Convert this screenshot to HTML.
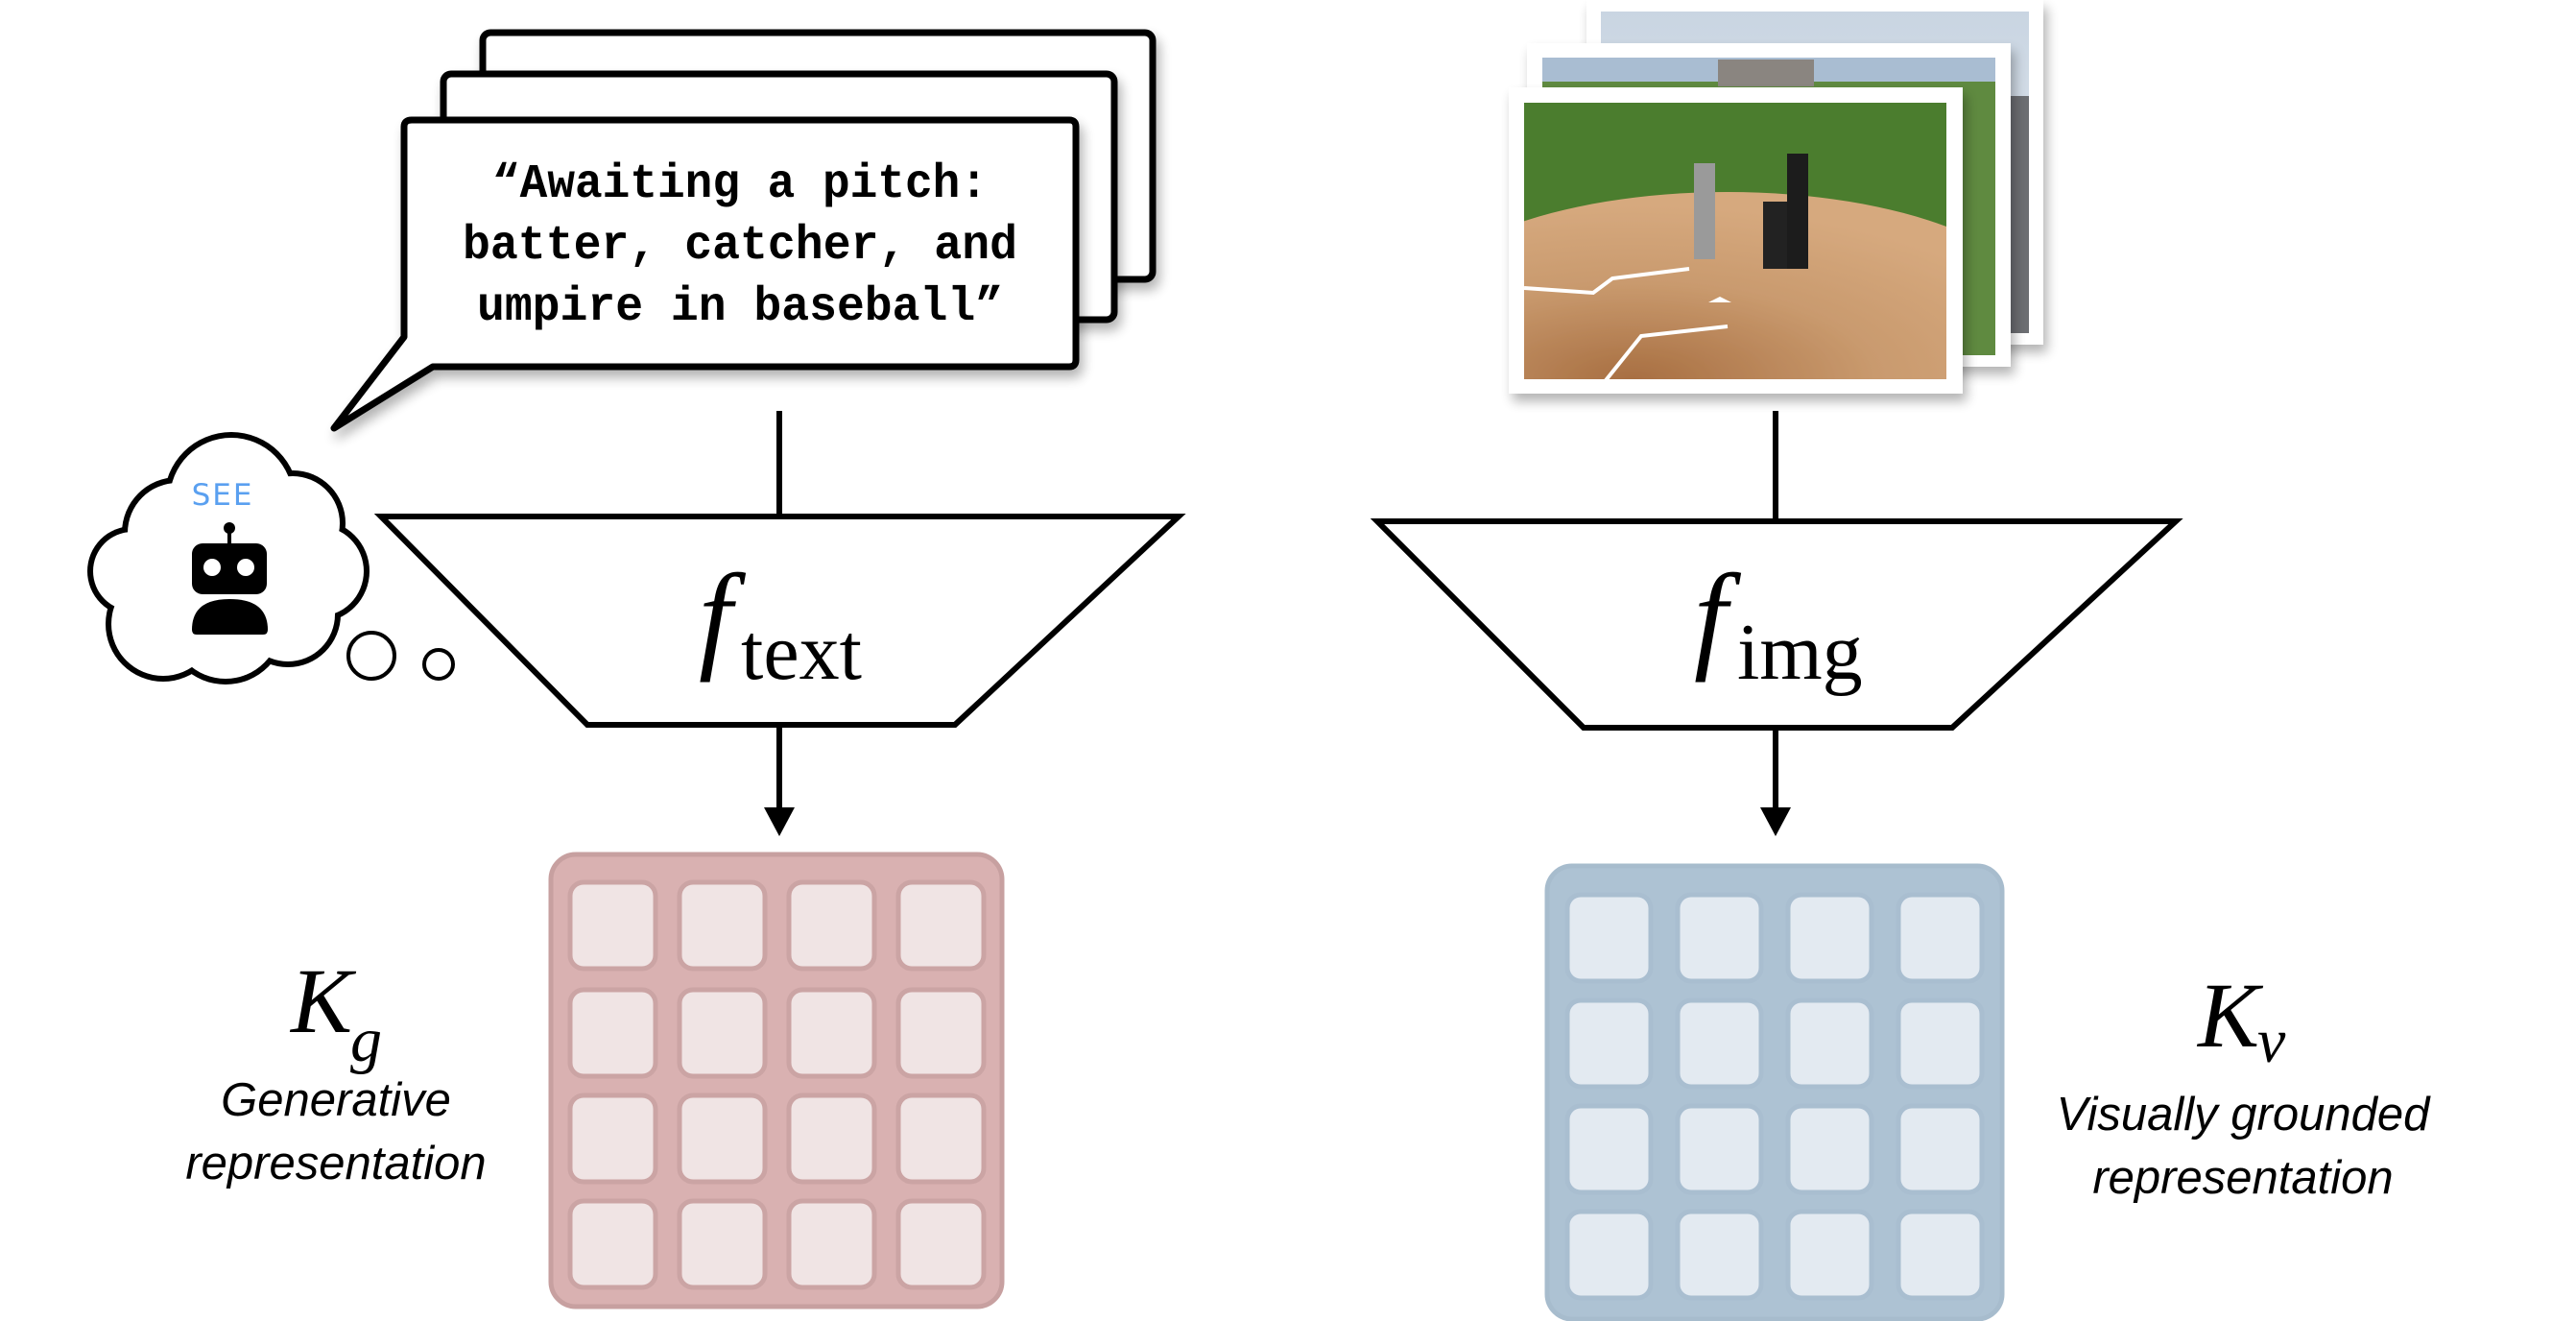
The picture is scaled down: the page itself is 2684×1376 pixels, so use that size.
<!DOCTYPE html>
<html><head><meta charset="utf-8"><style>
html,body{margin:0;padding:0;background:#fff;}
svg{display:block}
</style></head><body>
<svg width="2684" height="1376" viewBox="0 0 2684 1376" xmlns="http://www.w3.org/2000/svg">
<defs>
<filter id="sh" x="-10%" y="-10%" width="130%" height="130%"><feGaussianBlur in="SourceAlpha" stdDeviation="6"/><feOffset dx="4" dy="8"/><feComponentTransfer><feFuncA type="linear" slope="0.3"/></feComponentTransfer><feMerge><feMergeNode/><feMergeNode in="SourceGraphic"/></feMerge></filter>
<linearGradient id="sky" x1="0" y1="0" x2="0" y2="1"><stop offset="0" stop-color="#c9d5e2"/><stop offset="1" stop-color="#e8ecf0"/></linearGradient>
<radialGradient id="dirt" cx="0.35" cy="0.75" r="0.7"><stop offset="0" stop-color="#a86f42"/><stop offset="0.55" stop-color="#c99a6e"/><stop offset="1" stop-color="#d6a97e"/></radialGradient>
<clipPath id="pc"><rect x="1588" y="107" width="440" height="288"/></clipPath>
</defs>

<!-- text cards -->
<g stroke="#000" stroke-width="7" fill="#fff" stroke-linejoin="round">
<rect x="503" y="34" width="698" height="257" rx="8" filter="url(#sh)"/>
<rect x="462" y="77" width="699" height="256" rx="8" filter="url(#sh)"/>
<path d="M429 125 H1114 Q1121 125 1121 132 V375 Q1121 382 1114 382 H451 L348 446 L421 351 V132 Q421 125 429 125 Z" filter="url(#sh)"/>
</g>
<g font-family="Liberation Mono, monospace" font-size="50" font-weight="bold" text-anchor="middle" fill="#000" lengthAdjust="spacingAndGlyphs">
<text x="771" y="205" textLength="516" lengthAdjust="spacingAndGlyphs">“Awaiting a pitch:</text>
<text x="771" y="269" textLength="578" lengthAdjust="spacingAndGlyphs">batter, catcher, and</text>
<text x="771" y="333" textLength="548" lengthAdjust="spacingAndGlyphs">umpire in baseball”</text>
</g>

<!-- cloud -->
<g fill="#000">
<circle cx="241" cy="520" r="70"/><circle cx="185" cy="555" r="58"/><circle cx="138" cy="595" r="47"/>
<circle cx="170" cy="650" r="60"/><circle cx="235" cy="650" r="63"/><circle cx="300" cy="640" r="55"/>
<circle cx="332" cy="595" r="53"/><circle cx="305" cy="545" r="55"/><circle cx="240" cy="595" r="90"/>
</g>
<g fill="#fff">
<circle cx="241" cy="520" r="64"/><circle cx="185" cy="555" r="52"/><circle cx="138" cy="595" r="41"/>
<circle cx="170" cy="650" r="54"/><circle cx="235" cy="650" r="57"/><circle cx="300" cy="640" r="49"/>
<circle cx="332" cy="595" r="47"/><circle cx="305" cy="545" r="49"/><circle cx="240" cy="595" r="90"/>
</g>
<text x="232" y="526" font-family="DejaVu Sans, sans-serif" font-size="31" fill="#5aa0f0" text-anchor="middle" letter-spacing="2">SEE</text>
<circle cx="239" cy="550" r="6" fill="#000"/>
<rect x="237" y="550" width="4" height="18" fill="#000"/>
<rect x="200" y="566" width="78" height="53" rx="11" fill="#000"/>
<circle cx="221" cy="591" r="9" fill="#fff"/><circle cx="256" cy="591" r="9" fill="#fff"/>
<path d="M200 656 Q200 624 239 624 Q279 624 279 656 Q279 661 274 661 H205 Q200 661 200 656 Z" fill="#000"/>
<circle cx="387" cy="683" r="24" fill="none" stroke="#000" stroke-width="4"/>
<circle cx="457" cy="692" r="15" fill="none" stroke="#000" stroke-width="4"/>

<!-- encoders -->
<g stroke="#000" stroke-width="6" fill="none">
<line x1="812" y1="428" x2="812" y2="540"/>
<polygon points="397,538 1228,538 995,755 612,755" fill="#fff"/>
<line x1="812" y1="755" x2="812" y2="845"/>
<line x1="1850" y1="428" x2="1850" y2="543"/>
<polygon points="1435,543 2267,543 2034,758 1650,758" fill="#fff"/>
<line x1="1850" y1="758" x2="1850" y2="845"/>
</g>
<polygon points="796,841 828,841 812,871" fill="#000"/>
<polygon points="1834,841 1866,841 1850,871" fill="#000"/>
<text x="728" y="684" font-family="Liberation Serif, serif" font-style="italic" font-size="125" fill="#000">f</text>
<text x="772" y="707" font-family="Liberation Serif, serif" font-size="84" fill="#000">text</text>
<text x="1765" y="684" font-family="Liberation Serif, serif" font-style="italic" font-size="125" fill="#000">f</text>
<text x="1810" y="707" font-family="Liberation Serif, serif" font-size="84" fill="#000">img</text>

<!-- photos -->
<g filter="url(#sh)">
<rect x="1653" y="0" width="476" height="359" fill="#fff"/>
<rect x="1668" y="12" width="446" height="335" fill="url(#sky)"/>
<rect x="2090" y="100" width="24" height="247" fill="#6c6e72"/>
</g>
<g filter="url(#sh)">
<rect x="1591" y="45" width="504" height="337" fill="#fff"/>
<rect x="1607" y="60" width="472" height="310" fill="#a9bdd2"/>
<rect x="1607" y="85" width="472" height="285" fill="#5f8a3f"/>
<rect x="1790" y="62" width="100" height="28" fill="#8a8580"/>
</g>
<g filter="url(#sh)">
<rect x="1572" y="91" width="473" height="319" fill="#fff"/>
<g clip-path="url(#pc)">
<rect x="1588" y="107" width="440" height="288" fill="#4b7d2e"/>
<ellipse cx="1800" cy="330" rx="330" ry="130" fill="url(#dirt)"/>
<path d="M1670 400 L1710 350 L1800 340 M1588 300 L1660 305 L1680 290 L1760 280" stroke="#fff" stroke-width="4" fill="none"/>
<path d="M1780 315 l12 -6 l12 6 z" fill="#fff"/>
<rect x="1765" y="170" width="22" height="100" fill="#9a9a9a"/>
<rect x="1837" y="210" width="28" height="70" fill="#222"/>
<rect x="1862" y="160" width="22" height="120" fill="#1a1a1a"/>
</g>
</g>

<!-- pink grid -->
<rect x="574" y="890" width="470" height="471" rx="26" fill="#d9b1b1" stroke="#c7a0a0" stroke-width="5"/>
<g fill="#f0e4e4" stroke="#cba4a4" stroke-width="5">
<rect x="594" y="919" width="89" height="90" rx="14"/><rect x="708" y="919" width="89" height="90" rx="14"/><rect x="822" y="919" width="89" height="90" rx="14"/><rect x="936" y="919" width="89" height="90" rx="14"/>
<rect x="594" y="1031" width="89" height="90" rx="14"/><rect x="708" y="1031" width="89" height="90" rx="14"/><rect x="822" y="1031" width="89" height="90" rx="14"/><rect x="936" y="1031" width="89" height="90" rx="14"/>
<rect x="594" y="1141" width="89" height="90" rx="14"/><rect x="708" y="1141" width="89" height="90" rx="14"/><rect x="822" y="1141" width="89" height="90" rx="14"/><rect x="936" y="1141" width="89" height="90" rx="14"/>
<rect x="594" y="1251" width="89" height="90" rx="14"/><rect x="708" y="1251" width="89" height="90" rx="14"/><rect x="822" y="1251" width="89" height="90" rx="14"/><rect x="936" y="1251" width="89" height="90" rx="14"/>
</g>

<!-- blue grid -->
<rect x="1612" y="902" width="474" height="472" rx="26" fill="#adc2d3" stroke="#a7bccd" stroke-width="5"/>
<g fill="#e3eaf1" stroke="#a9bed0" stroke-width="5">
<rect x="1633" y="932" width="87" height="90" rx="14"/><rect x="1748" y="932" width="87" height="90" rx="14"/><rect x="1863" y="932" width="87" height="90" rx="14"/><rect x="1978" y="932" width="87" height="90" rx="14"/>
<rect x="1633" y="1042" width="87" height="90" rx="14"/><rect x="1748" y="1042" width="87" height="90" rx="14"/><rect x="1863" y="1042" width="87" height="90" rx="14"/><rect x="1978" y="1042" width="87" height="90" rx="14"/>
<rect x="1633" y="1152" width="87" height="90" rx="14"/><rect x="1748" y="1152" width="87" height="90" rx="14"/><rect x="1863" y="1152" width="87" height="90" rx="14"/><rect x="1978" y="1152" width="87" height="90" rx="14"/>
<rect x="1633" y="1262" width="87" height="90" rx="14"/><rect x="1748" y="1262" width="87" height="90" rx="14"/><rect x="1863" y="1262" width="87" height="90" rx="14"/><rect x="1978" y="1262" width="87" height="90" rx="14"/>
</g>

<!-- labels -->
<text x="303" y="1075" font-family="Liberation Serif, serif" font-style="italic" font-size="96" fill="#000">K</text>
<text x="365" y="1105" font-family="Liberation Serif, serif" font-style="italic" font-size="66" fill="#000">g</text>
<g font-family="Liberation Sans, sans-serif" font-style="italic" font-size="49" fill="#000" text-anchor="middle">
<text x="350" y="1162">Generative</text>
<text x="350" y="1228">representation</text>
<text x="2337" y="1177">Visually grounded</text>
<text x="2337" y="1243">representation</text>
</g>
<text x="2290" y="1090" font-family="Liberation Serif, serif" font-style="italic" font-size="96" fill="#000">K</text>
<text x="2352" y="1106" font-family="Liberation Serif, serif" font-style="italic" font-size="66" fill="#000">v</text>
</svg>
</body></html>
